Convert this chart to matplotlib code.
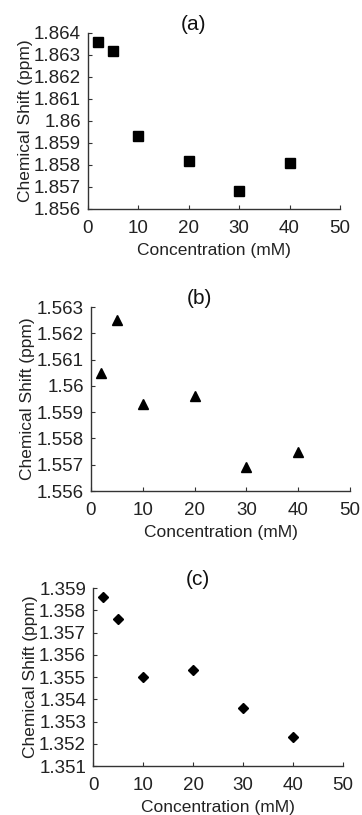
import numpy as np
import matplotlib.pyplot as plt

plt.rcParams['font.family'] = ['Liberation Sans', 'DejaVu Sans']

conc = [2, 5, 10, 20, 30, 40]
shift_a = [1.8636, 1.8632, 1.8593, 1.8582, 1.8568, 1.8581]
shift_b = [1.5605, 1.5625, 1.5593, 1.5596, 1.5569, 1.5575]
shift_c = [1.3586, 1.3576, 1.3550, 1.3553, 1.3536, 1.3523]

ylims = [(1.856, 1.864), (1.556, 1.563), (1.351, 1.359)]
markers = ['s', '^', 'D']
titles = ['(a)', '(b)', '(c)']
# left, bottom, width, height in figure fraction
boxes = [
    [0.243, 0.7436, 0.696, 0.216],
    [0.251, 0.3975, 0.716, 0.2258],
    [0.257, 0.0601, 0.6905, 0.2184],
]

fig = plt.figure(figsize=(3.62, 8.15), dpi=100)

for i, ys in enumerate([shift_a, shift_b, shift_c]):
    ax = fig.add_axes(boxes[i])
    ms = 6.8 if markers[i] != 'D' else 5.4
    ax.plot(conc, ys, linestyle='none', marker=markers[i], color='black', markersize=ms)
    ax.set_xlim(0, 50)
    ax.set_ylim(*ylims[i])
    ax.set_xticks(np.arange(0, 51, 10))
    lo, hi = ylims[i]
    yt = np.round(np.arange(lo, hi + 0.0005, 0.001), 3)
    ax.set_yticks(yt)
    ax.set_yticklabels([('%.3f' % v).rstrip('0').rstrip('.') for v in yt])
    for s in ['top', 'right']:
        ax.spines[s].set_visible(False)
    for s in ['left', 'bottom']:
        ax.spines[s].set_color('#333333')
        ax.spines[s].set_linewidth(1.0)
    ax.tick_params(direction='in', length=3, width=0.8, color='#333333',
                   labelsize=13.5, labelcolor='#222222')
    ax.tick_params(axis='x', pad=8)
    ax.tick_params(axis='y', pad=5)
    ax.set_xlabel('Concentration (mM)', fontsize=12.5, color='#222222', labelpad=4)
    ax.set_ylabel('Chemical Shift (ppm)', fontsize=12.5, color='#222222', labelpad=1)
    ax.set_title(titles[i], fontsize=15, x=0.42, y=1.0, pad=2, color='#111111')

fig.savefig('out.png', dpi=100)
